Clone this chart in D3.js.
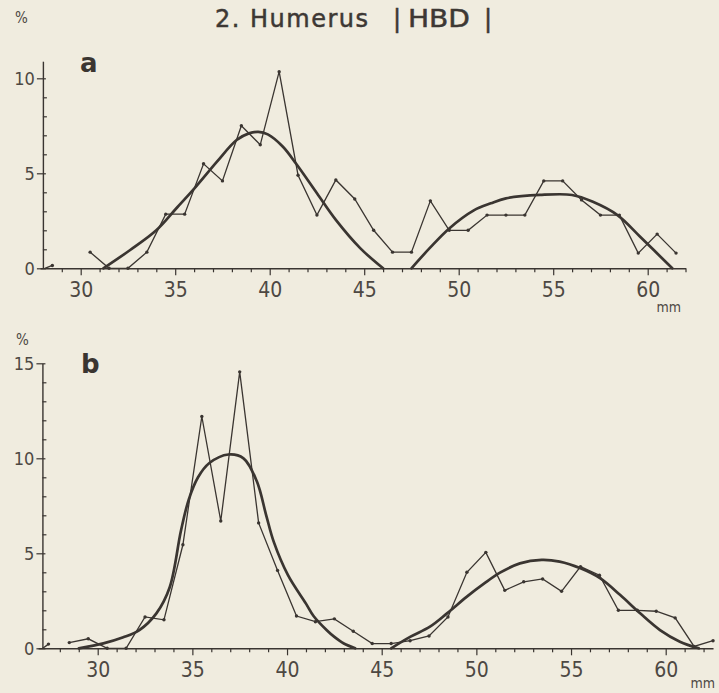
<!DOCTYPE html>
<html>
<head>
<meta charset="utf-8">
<script src="https://cdn.jsdelivr.net/npm/d3@7"></script>
<style>
  html, body { margin: 0; padding: 0; background: #f0ecdf; }
  svg { display: block; }
</style>
</head>
<body>
<svg id="chart" width="719" height="693"></svg>
<script>
// ---- Panel a: observed frequencies (% per 1 mm class, class midpoints in mm)
const classesA = [30.5, 31.5, 32.5, 33.5, 34.5, 35.5, 36.5, 37.5, 38.5, 39.5, 40.5,
                  41.5, 42.5, 43.5, 44.5, 45.5, 46.5, 47.5, 48.5, 49.5, 50.5, 51.5,
                  52.5, 53.5, 54.5, 55.5, 56.5, 57.5, 58.5, 59.5, 60.5, 61.5];
const percentA = [0.85, 0, 0, 0.85, 2.85, 2.85, 5.5, 4.6, 7.5, 6.5, 10.35,
                  4.9, 2.8, 4.65, 3.65, 2.0, 0.85, 0.85, 3.55, 2.0, 2.0, 2.8,
                  2.8, 2.8, 4.6, 4.6, 3.6, 2.8, 2.8, 0.8, 1.8, 0.8];
const stubA = [[28.1, 0], [28.5, 0.15]];

// Fitted component curves of panel a, (mm, %)
const fitA1 = [[31.2, 0], [32.6, 0.95], [34.0, 2.0], [35.1, 3.2], [36.1, 4.3], [37.2, 5.6],
               [38.25, 6.75], [38.9, 7.1], [39.4, 7.18], [39.9, 7.05], [40.7, 6.4],
               [41.4, 5.5], [42.5, 3.95], [43.5, 2.55], [44.8, 1.05], [46.0, 0]];
const fitA2 = [[47.5, 0], [48.5, 1.1], [49.5, 2.1], [50.8, 3.05], [51.7, 3.42], [52.5, 3.68],
               [54.3, 3.86], [56.0, 3.86], [57.1, 3.5], [58.4, 2.8], [59.6, 1.66], [61.3, 0]];

// ---- Panel b
const classesB = [28.5, 29.5, 30.5, 31.5, 32.5, 33.5, 34.5, 35.5, 36.5, 37.5, 38.5,
                  39.5, 40.5, 41.5, 42.5, 43.5, 44.5, 45.5, 46.5, 47.5, 48.5, 49.5,
                  50.5, 51.5, 52.5, 53.5, 54.5, 55.5, 56.5, 57.5, 58.5, 59.5, 60.5,
                  61.5, 62.5];
const percentB = [0.3, 0.5, 0, 0, 1.65, 1.5, 5.45, 12.2, 6.7, 14.55, 6.6,
                  4.1, 1.7, 1.4, 1.55, 0.9, 0.25, 0.25, 0.4, 0.65, 1.65, 4.0,
                  5.05, 3.05, 3.5, 3.65, 3.0, 4.3, 3.85, 2.0, 2.0, 1.95, 1.6,
                  0.1, 0.4];
const stubB = [[27.1, 0], [27.4, 0.22]];

const fitB1 = [[29.0, 0], [30.3, 0.26], [31.35, 0.58], [32.2, 0.96], [33.1, 1.84], [33.8, 3.2],
               [34.4, 6.2], [34.8, 7.8], [35.3, 9.0], [35.9, 9.75], [36.9, 10.2], [37.7, 10.0],
               [38.4, 8.8], [38.9, 7.0], [39.3, 5.6], [40.05, 3.85], [41.0, 2.35], [41.4, 1.7],
               [42.1, 0.95], [42.5, 0.6], [43.0, 0.25], [43.6, 0]];
const fitB2 = [[45.5, 0], [46.5, 0.6], [47.55, 1.14], [48.45, 1.84], [49.5, 2.72], [50.4, 3.4],
               [51.25, 3.98], [52.3, 4.47], [53.45, 4.65], [54.4, 4.56], [55.5, 4.21],
               [56.55, 3.68], [57.6, 2.8], [58.65, 1.84], [59.7, 0.96], [60.75, 0.35], [61.75, 0]];

// ---- Tick labels
const xLabels = [30, 35, 40, 45, 50, 55, 60];
const yLabelsA = [0, 5, 10];
const yLabelsB = [0, 5, 10, 15];

const INK = '#3a3531';
const LABEL_INK = '#4d4843';
const TICK_FONT = "'Liberation Sans Narrow', 'DejaVu Sans Condensed', 'Liberation Sans', sans-serif";

const svg = d3.select('#chart');

// Title
const title = svg.append('text')
  .attr('y', 27)
  .attr('font-family', "'DejaVu Sans', sans-serif")
  .attr('font-size', 24)
  .attr('fill', '#3d3834')
  .attr('stroke', '#3d3834')
  .attr('stroke-width', 0.5);
title.append('tspan').attr('x', 215)
  .attr('textLength', 153).attr('lengthAdjust', 'spacing').text('2. Humerus');
title.append('tspan').attr('x', 393).attr('font-style', 'italic').text('|');
title.append('tspan').attr('x', 408)
  .attr('textLength', 62).attr('lengthAdjust', 'spacingAndGlyphs').text('HBD');
title.append('tspan').attr('x', 484).attr('font-style', 'italic').text('|');

function drawPanel(cfg) {
  const g = svg.append('g');
  const x = d3.scaleLinear().domain([30, 60]).range(cfg.xPx);
  const y = d3.scaleLinear().domain([0, cfg.yRefVal]).range(cfg.yPx);

  // x axis: a tick every mm, longer ticks and labels every 5 mm
  const xAxisScale = d3.scaleLinear()
    .domain([cfg.xStart, cfg.xEnd])
    .range([x(cfg.xStart), x(cfg.xEnd)]);
  const xAxis = d3.axisBottom(xAxisScale)
    .tickValues(cfg.xTicks)
    .tickSize(4)
    .tickSizeOuter(0)
    .tickFormat(d => xLabels.includes(d) ? d : '');
  const gx = g.append('g')
    .attr('transform', `translate(0,${y(0)})`)
    .call(xAxis);
  gx.select('.domain').attr('stroke', INK).attr('stroke-width', 1.4);
  gx.selectAll('.tick line').attr('stroke', INK).attr('stroke-width', 1.2);
  gx.selectAll('.tick').filter(d => xLabels.includes(d)).select('line').attr('y2', 7);
  gx.selectAll('.tick text')
    .attr('y', 28.5).attr('dy', 0)
    .attr('font-family', TICK_FONT)
    .attr('font-size', 21)
    .attr('fill', LABEL_INK);

  // y axis: minor ticks inside, labelled ticks outside
  const yAxisScale = d3.scaleLinear()
    .domain([0, cfg.yTop])
    .range([y(0), y(cfg.yTop)]);
  const yAxis = d3.axisLeft(yAxisScale)
    .tickValues(d3.range(0, Math.floor(cfg.yTop) + 1))
    .tickSize(6)
    .tickSizeOuter(0)
    .tickFormat(d => cfg.yLabels.includes(d) ? d : '');
  const gy = g.append('g')
    .attr('transform', `translate(${x(cfg.yAxisAt)},0)`)
    .call(yAxis);
  gy.select('.domain').attr('stroke', INK).attr('stroke-width', 1.4);
  gy.selectAll('.tick line').attr('stroke', INK).attr('stroke-width', 1.2);
  gy.selectAll('.tick').filter(d => !cfg.yLabels.includes(d)).select('line')
    .attr('x1', 0).attr('x2', 4);
  gy.selectAll('.tick').filter(d => cfg.yLabels.includes(d)).select('line')
    .attr('x1', 3).attr('x2', -6);
  gy.selectAll('.tick text')
    .attr('x', -8).attr('dy', '0.36em')
    .attr('font-family', TICK_FONT)
    .attr('font-size', 18)
    .attr('fill', LABEL_INK);

  // axis captions and panel letter
  g.append('text')
    .attr('x', cfg.pctPos[0]).attr('y', cfg.pctPos[1])
    .attr('font-family', TICK_FONT).attr('font-size', 15)
    .attr('fill', LABEL_INK).text('%');
  g.append('text')
    .attr('x', cfg.mmPos[0]).attr('y', cfg.mmPos[1])
    .attr('text-anchor', 'end')
    .attr('font-family', TICK_FONT).attr('font-size', 14)
    .attr('fill', LABEL_INK).text('mm');
  g.append('text')
    .attr('x', cfg.letterPos[0]).attr('y', cfg.letterPos[1])
    .attr('font-family', "'DejaVu Sans', sans-serif").attr('font-size', 26)
    .attr('font-weight', 'bold')
    .attr('fill', INK).text(cfg.letter);

  // observed frequency polygon
  const obsLine = d3.line().x(d => x(d[0])).y(d => y(d[1]));
  const obs = d3.zip(cfg.classes, cfg.percent);
  g.append('path').datum(obs)
    .attr('d', obsLine)
    .attr('fill', 'none').attr('stroke', INK)
    .attr('stroke-width', 1.3).attr('stroke-linejoin', 'miter');
  g.append('path').datum(cfg.stub)
    .attr('d', obsLine)
    .attr('fill', 'none').attr('stroke', INK).attr('stroke-width', 1.3);
  g.selectAll('circle.pt').data(obs.concat([cfg.stub[cfg.stub.length - 1]]))
    .join('circle').attr('class', 'pt')
    .attr('cx', d => x(d[0])).attr('cy', d => y(d[1]))
    .attr('r', 1.7).attr('fill', INK);

  // fitted component curves
  const fitLine = d3.line()
    .x(d => x(d[0])).y(d => y(d[1]))
    .curve(d3.curveCatmullRom.alpha(0.5));
  cfg.fits.forEach(f => {
    g.append('path').datum(f)
      .attr('d', fitLine)
      .attr('fill', 'none').attr('stroke', INK)
      .attr('stroke-width', 2.7).attr('stroke-linecap', 'round');
  });
}

drawPanel({
  xPx: [80.7, 647.7], yRefVal: 10, yPx: [268.3, 78.3],
  xStart: 27.85, xEnd: 62, xTicks: d3.range(29, 63),
  yTop: 10.9, yAxisAt: 28.0, yLabels: yLabelsA,
  classes: classesA, percent: percentA, stub: stubA, fits: [fitA1, fitA2],
  pctPos: [15, 23], mmPos: [681, 312], letterPos: [80, 72], letter: 'a'
});

drawPanel({
  xPx: [97.7, 665.7], yRefVal: 15, yPx: [648.3, 363.3],
  xStart: 26.85, xEnd: 62.5, xTicks: d3.range(28, 63),
  yTop: 15, yAxisAt: 27.08, yLabels: yLabelsB,
  classes: classesB, percent: percentB, stub: stubB, fits: [fitB1, fitB2],
  pctPos: [16, 345], mmPos: [715, 688], letterPos: [81, 373], letter: 'b'
});
</script>
</body>
</html>
